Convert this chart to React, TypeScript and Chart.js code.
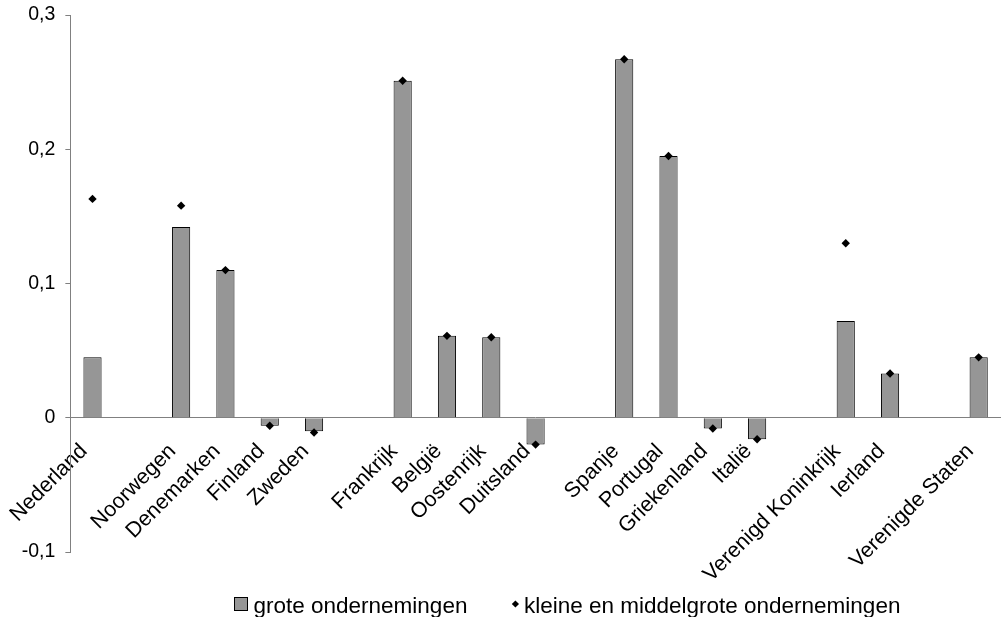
import React, { useEffect, useRef } from 'react';
import { Chart, registerables } from 'chart.js';

Chart.register(...registerables);

// ---- Data ----
const categories: string[] = [
  'Nederland', '', 'Noorwegen', 'Denemarken', 'Finland', 'Zweden', '',
  'Frankrijk', 'België', 'Oostenrijk', 'Duitsland', '',
  'Spanje', 'Portugal', 'Griekenland', 'Italië', '',
  'Verenigd Koninkrijk', 'Ierland', '', 'Verenigde Staten',
];

const largeEnterprises: (number | null)[] = [
  0.045, null, 0.142, 0.110, -0.006, -0.010, null,
  0.251, 0.061, 0.060, -0.020, null,
  0.267, 0.195, -0.008, -0.016, null,
  0.072, 0.033, null, 0.045,
];

const smeEnterprises: (number | null)[] = [
  0.163, null, 0.158, 0.110, -0.006, -0.011, null,
  0.251, 0.061, 0.060, -0.020, null,
  0.267, 0.195, -0.008, -0.016, null,
  0.130, 0.033, null, 0.045,
];

const seriesNames: string[] = ['grote ondernemingen', 'kleine en middelgrote ondernemingen'];

const yMin = -0.1;
const yMax = 0.3;
const yStep = 0.1;

// ---- Styles ----
const FONT_FAMILY = '"Liberation Sans", Arial, Helvetica, sans-serif';
const BAR_COLOR = '#969696';
const AXIS_COLOR = '#808080';
const LEGEND_FONT_SIZE = 22.5;

const formatTick = (v: number) => {
  if (Math.abs(v) < 1e-9) return '0';
  return v.toFixed(1).replace('.', ',');
};

const legendPlugin = {
  id: 'excelLegend',
  afterDraw(chart: any) {
    const ctx: CanvasRenderingContext2D = chart.ctx;
    ctx.save();
    ctx.font = `${LEGEND_FONT_SIZE}px ${FONT_FAMILY}`;
    ctx.textBaseline = 'alphabetic';
    ctx.textAlign = 'left';
    const baseline = 613;
    let x = 234;
    // square marker
    ctx.fillStyle = BAR_COLOR;
    ctx.fillRect(x, 597, 14, 14);
    ctx.strokeStyle = '#000';
    ctx.lineWidth = 1;
    ctx.strokeRect(x + 0.5, 597.5, 13, 13);
    x += 19.5;
    ctx.fillStyle = '#000';
    ctx.fillText(seriesNames[0], x, baseline);
    x += ctx.measureText(seriesNames[0]).width + 48;
    // diamond marker
    const cy = 604;
    const r = 3.6;
    ctx.beginPath();
    ctx.moveTo(x, cy - r);
    ctx.lineTo(x + r, cy);
    ctx.lineTo(x, cy + r);
    ctx.lineTo(x - r, cy);
    ctx.closePath();
    ctx.fill();
    x += 8.5;
    ctx.fillText(seriesNames[1], x, baseline);
    ctx.restore();
  },
};

export default function App() {
  const ref = useRef<HTMLCanvasElement>(null);

  useEffect(() => {
    if (!ref.current) return;
    const chart = new Chart(ref.current, {
      type: 'bar',
      data: {
        labels: categories,
        datasets: [
          {
            type: 'bar',
            label: seriesNames[0],
            data: largeEnterprises,
            backgroundColor: BAR_COLOR,
            borderColor: '#000000',
            borderWidth: 1,
            categoryPercentage: 1,
            barPercentage: 0.41,
            order: 1,
          } as any,
          {
            type: 'line',
            label: seriesNames[1],
            data: smeEnterprises,
            showLine: false,
            pointStyle: 'rectRot',
            pointRadius: 4.2,
            pointBackgroundColor: '#000000',
            pointBorderColor: '#000000',
            pointBorderWidth: 0,
            order: 0,
          } as any,
        ],
      },
      options: {
        responsive: false,
        animation: false,
        layout: { padding: { top: 15, bottom: 65, left: 0, right: 0 } },
        plugins: {
          legend: { display: false },
          tooltip: { enabled: false },
        },
        scales: {
          x: {
            position: { y: 0 } as any,
            z: 1,
            grid: { display: true, drawOnChartArea: false, drawTicks: false },
            border: { display: true, color: AXIS_COLOR, width: 1 },
            ticks: {
              autoSkip: false,
              minRotation: 45,
              maxRotation: 45,
              padding: 21,
              labelOffset: -8.5,
              color: '#000000',
              font: { family: FONT_FAMILY, size: 21.5 },
            },
            afterFit: (s: any) => {
              s.height = 0;
            },
          } as any,
          y: {
            min: yMin,
            max: yMax,
            ticks: {
              stepSize: yStep,
              padding: 10,
              color: '#000000',
              font: { family: FONT_FAMILY, size: 19.5 },
              callback: (v: any) => formatTick(Number(v)),
            },
            grid: { display: true, drawOnChartArea: false, drawTicks: true, tickLength: 5, color: AXIS_COLOR },
            border: { display: true, color: AXIS_COLOR, width: 1 },
            afterFit: (s: any) => {
              s.width = 70;
              s.paddingTop = 0;
              s.paddingBottom = 0;
            },
          } as any,
        },
      },
      plugins: [legendPlugin],
    });
    return () => chart.destroy();
  }, []);

  return (
    <div
      style={{
        position: 'fixed',
        left: 0,
        top: 0,
        width: 1007,
        height: 617,
        overflow: 'hidden',
        background: '#ffffff',
      }}
    >
      <canvas ref={ref} width={1018} height={617} style={{ display: 'block', width: 1018, height: 617 }} />
    </div>
  );
}
